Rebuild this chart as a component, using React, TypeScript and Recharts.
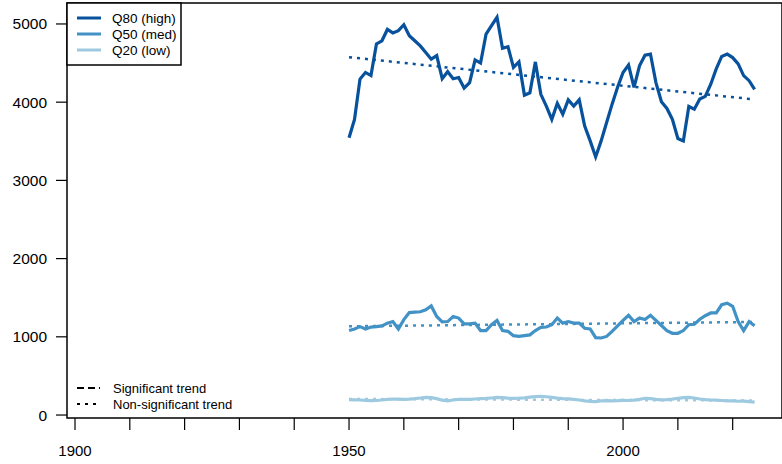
import React from 'react';
import { LineChart, Line, XAxis, YAxis, ReferenceArea, Legend } from 'recharts';

// annual flow quantiles, 1950-2024
const YEARS = Array.from({ length: 75 }, (_, i) => 1950 + i);

const Q80 = [
  3545, 3780, 4295, 4380, 4340, 4745, 4785, 4930, 4885, 4915,
  4990, 4850, 4785, 4720, 4635, 4550, 4595, 4300, 4390, 4300,
  4315, 4180, 4250, 4540, 4500, 4870, 4980, 5085, 4690, 4710,
  4445, 4515, 4090, 4120, 4515, 4100, 3950, 3780, 3985, 3845,
  4030, 3950, 4030, 3695, 3505, 3300, 3505, 3740, 3975, 4190,
  4380, 4475, 4190, 4465, 4600, 4615, 4250, 4005, 3920, 3780,
  3535, 3505, 3945, 3910, 4040, 4075, 4230, 4425, 4585, 4615,
  4570, 4490, 4340, 4275, 4165,
];

const Q50 = [
  1080, 1100, 1130, 1100, 1125, 1130, 1140, 1175, 1195, 1100,
  1220, 1310, 1315, 1320, 1345, 1395, 1260, 1190, 1195, 1260,
  1240, 1165, 1165, 1175, 1080, 1080, 1155, 1210, 1080, 1070,
  1015, 1005, 1015, 1025, 1080, 1120, 1125, 1155, 1240, 1175,
  1195, 1175, 1175, 1110, 1100, 990, 985, 1005, 1070, 1140,
  1210, 1275, 1195, 1240, 1220, 1275, 1210, 1145, 1080, 1045,
  1045, 1080, 1155, 1160, 1225, 1270, 1305, 1305, 1410, 1430,
  1390, 1195, 1080, 1195, 1140,
];

const Q20 = [
  196, 195, 192, 188, 185, 186, 192, 200, 205, 203,
  200, 204, 210, 218, 225, 222, 210, 190, 182, 192,
  200, 202, 200, 205, 210, 212, 218, 225, 222, 215,
  212, 215, 220, 228, 236, 240, 234, 225, 216, 210,
  206, 200, 192, 182, 175, 172, 180, 184, 182, 184,
  188, 186, 190, 200, 214, 210, 200, 194, 196, 204,
  214, 222, 226, 218, 205, 196, 192, 190, 186, 182,
  180, 176, 178, 172, 165,
];

// linear trend end points (all non-significant)
const TREND_YEARS = [1950, 2024];
const Q80_TREND = [4575, 4035];
const Q50_TREND = [1135, 1190];
const Q20_TREND = [205, 185];

const X_TICKS = [1900, 1910, 1920, 1930, 1940, 1950, 1960, 1970, 1980, 1990, 2000, 2010, 2020];
const Y_TICKS = [0, 1000, 2000, 3000, 4000, 5000];

const SERIES = [
  { key: 'q80', name: 'Q80 (high)', color: '#08519C', values: Q80, trend: Q80_TREND },
  { key: 'q50', name: 'Q50 (med)', color: '#4292C6', values: Q50, trend: Q50_TREND },
  { key: 'q20', name: 'Q20 (low)', color: '#9ECAE1', values: Q20, trend: Q20_TREND },
];

const X_DOMAIN = [1898.54, 2029];
const Y_DOMAIN = [-38, 5268];
const FONT = '"Liberation Sans", Arial, sans-serif';

const rows = YEARS.map((year, i) => ({ year, q80: Q80[i], q50: Q50[i], q20: Q20[i] }));

const LegendLayer = () => (
  <svg width={782} height={464} style={{ fontFamily: FONT }}>
    <rect x={67} y={3} width={114} height={62} fill="#fff" stroke="#000" strokeWidth={1.5} />
    {SERIES.map((s, i) => (
      <g key={s.key}>
        <line x1={77} x2={101} y1={18 + i * 16} y2={18 + i * 16} stroke={s.color} strokeWidth={3} />
        <text x={112} y={18 + i * 16} dy="0.35em" fontSize={13.5} fill="#000">{s.name}</text>
      </g>
    ))}
    <line x1={77} x2={100} y1={388} y2={388} stroke="#000" strokeWidth={2} strokeDasharray="7 4" />
    <text x={113} y={388} dy="0.35em" fontSize={13} fill="#000">Significant trend</text>
    <line x1={77} x2={100} y1={404} y2={404} stroke="#000" strokeWidth={2} strokeDasharray="3 5" />
    <text x={113} y={404} dy="0.35em" fontSize={13} fill="#000">Non-significant trend</text>
  </svg>
);

export default function App() {
  return (
    <div style={{ position: 'absolute', left: 0, top: 0, background: '#fff' }}>
      <LineChart width={782} height={464} data={rows} margin={{ top: 3, right: 0, bottom: 0, left: 0 }}>
        <XAxis
          dataKey="year"
          type="number"
          domain={X_DOMAIN}
          ticks={X_TICKS}
          allowDataOverflow
          tickFormatter={(v: number) => (v % 50 === 0 ? String(v) : '')}
          axisLine={false}
          tickLine={{ stroke: '#000', strokeWidth: 1.2 }}
          tickSize={12}
          tickMargin={15}
          height={46}
          tick={{ fontSize: 15, fill: '#000', fontFamily: FONT }}
        />
        <YAxis
          type="number"
          domain={Y_DOMAIN}
          ticks={Y_TICKS}
          allowDataOverflow
          width={67}
          axisLine={false}
          tickLine={{ stroke: '#000', strokeWidth: 1.2 }}
          tickSize={11}
          tickMargin={9}
          tick={{ fontSize: 15.5, fill: '#000', fontFamily: FONT }}
        />
        <ReferenceArea
          x1={X_DOMAIN[0]}
          x2={X_DOMAIN[1]}
          y1={Y_DOMAIN[0]}
          y2={Y_DOMAIN[1]}
          fill="none"
          stroke="#000"
          strokeWidth={1.5}
          ifOverflow="visible"
        />
        {SERIES.map((s) => (
          <Line
            key={s.key}
            dataKey={s.key}
            stroke={s.color}
            strokeWidth={3.2}
            dot={false}
            activeDot={false}
            isAnimationActive={false}
          />
        ))}
        {SERIES.map((s) => (
          <Line
            key={s.key + '-trend'}
            data={TREND_YEARS.map((year, i) => ({ year, trend: s.trend[i] }))}
            dataKey="trend"
            stroke={s.color}
            strokeWidth={2.5}
            strokeDasharray="3 5"
            dot={false}
            activeDot={false}
            isAnimationActive={false}
          />
        ))}
        <Legend
          layout="horizontal"
          verticalAlign="middle"
          align="center"
          content={() => <LegendLayer />}
          wrapperStyle={{ position: 'absolute', left: 0, top: 0, width: 782, height: 464, pointerEvents: 'none' }}
        />
      </LineChart>
    </div>
  );
}
